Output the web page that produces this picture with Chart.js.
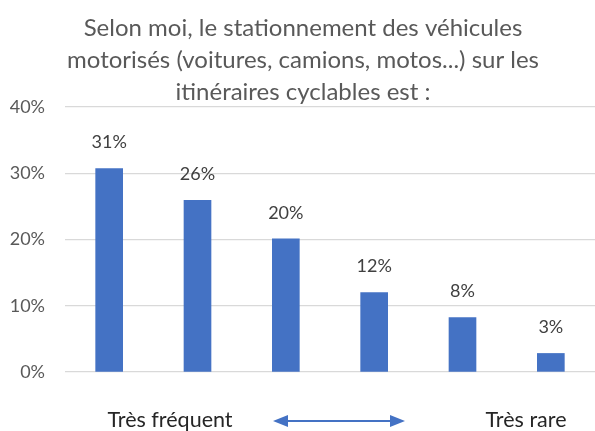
<!DOCTYPE html>
<html>
<head>
<meta charset="utf-8">
<script src="https://cdn.jsdelivr.net/npm/chart.js@4/dist/chart.umd.min.js"></script>
<style>
html,body{margin:0;padding:0;background:#fff;}
#wrap{width:595px;height:431px;position:relative;}
</style>
</head>
<body>
<div id="wrap"><canvas id="c" width="595" height="431"></canvas></div>
<script>
const categories = ["1", "2", "3", "4", "5", "6"];
const values = [30.7, 25.9, 20.1, 12.0, 8.2, 2.8];
const valueLabels = ["31%", "26%", "20%", "12%", "8%", "3%"];
const yTicks = [0, 10, 20, 30, 40];
const titleLines = [
  "Selon moi, le stationnement des véhicules",
  "motorisés (voitures, camions, motos...) sur les",
  "itinéraires cyclables est :"
];
const leftLabel = "Très fréquent";
const rightLabel = "Très rare";

const FONT = "Lato, 'Open Sans', sans-serif";

const decor = {
  id: 'decor',
  afterDraw(chart) {
    const ctx = chart.ctx;
    ctx.save();
    // title
    ctx.fillStyle = '#595959';
    ctx.font = '24px ' + FONT;
    ctx.textAlign = 'center';
    ctx.textBaseline = 'alphabetic';
    const tb = [36, 68, 100];
    titleLines.forEach((t, i) => ctx.fillText(t, 303, tb[i]));
    // data labels
    const meta = chart.getDatasetMeta(0);
    ctx.fillStyle = '#404040';
    ctx.font = '18px ' + FONT;
    ctx.textBaseline = 'middle';
    meta.data.forEach((bar, i) => {
      ctx.fillText(valueLabels[i], bar.x, bar.y - 26);
    });
    // bottom labels
    ctx.fillStyle = '#262626';
    ctx.font = '21.5px ' + FONT;
    ctx.textBaseline = 'alphabetic';
    ctx.fillText(leftLabel, 170, 427);
    ctx.fillText(rightLabel, 526, 427);
    // arrow
    const y = 421, x1 = 273, x2 = 405, ah = 15, aw = 6;
    ctx.strokeStyle = '#4472C4';
    ctx.fillStyle = '#4472C4';
    ctx.lineWidth = 2;
    ctx.beginPath();
    ctx.moveTo(x1 + ah - 2, y);
    ctx.lineTo(x2 - ah + 2, y);
    ctx.stroke();
    ctx.beginPath();
    ctx.moveTo(x1, y); ctx.lineTo(x1 + ah, y - aw); ctx.lineTo(x1 + ah, y + aw); ctx.closePath(); ctx.fill();
    ctx.beginPath();
    ctx.moveTo(x2, y); ctx.lineTo(x2 - ah, y - aw); ctx.lineTo(x2 - ah, y + aw); ctx.closePath(); ctx.fill();
    ctx.restore();
  }
};

new Chart(document.getElementById('c'), {
  type: 'bar',
  data: {
    labels: categories,
    datasets: [{
      data: values,
      backgroundColor: '#4472C4',
      borderWidth: 0,
      barThickness: 27
    }]
  },
  options: {
    responsive: false,
    animation: false,
    events: [],
    layout: { padding: { top: 107, bottom: 59, left: 0, right: -4 } },
    plugins: { legend: { display: false }, tooltip: { enabled: false }, title: { display: false } },
    scales: {
      x: {
        display: false,
        offset: true,
        grid: { display: false },
        border: { display: false },
        ticks: { display: false }
      },
      y: {
        min: 0, max: 40,
        afterFit(s) { s.width = 65; },
        afterBuildTicks(s) { s.ticks = yTicks.map(v => ({ value: v })); },
        grid: { color: '#d9d9d9', lineWidth: 1.3, drawTicks: false },
        border: { display: false },
        ticks: {
          padding: 20,
          color: '#595959',
          font: { family: FONT, size: 18 },
          callback: v => v + '%'
        }
      }
    }
  },
  plugins: [decor]
});
</script>
</body>
</html>
